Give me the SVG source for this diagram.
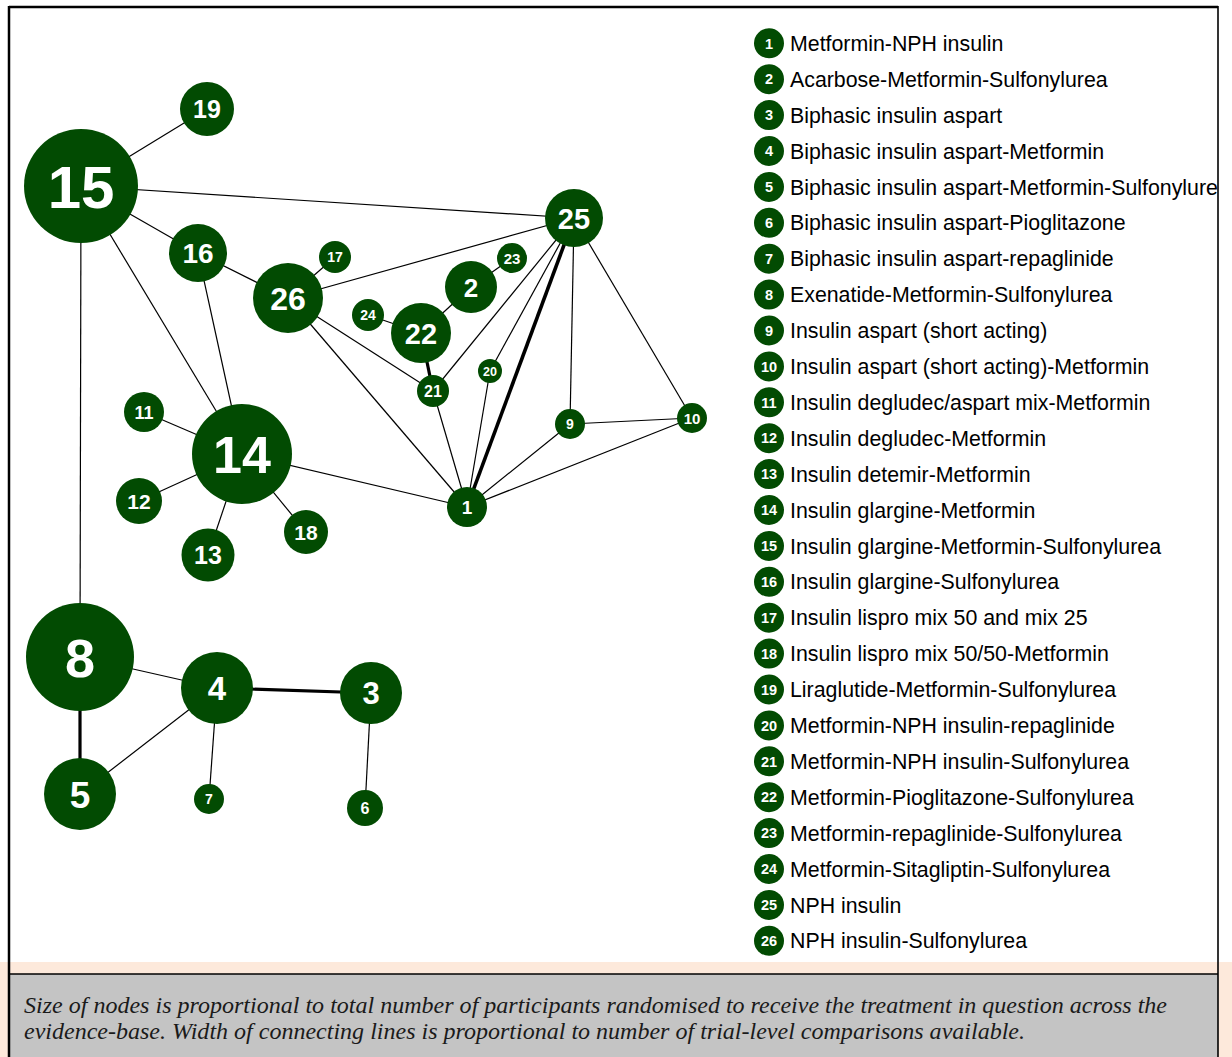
<svg xmlns="http://www.w3.org/2000/svg" width="1232" height="1057" viewBox="0 0 1232 1057">
<style>
.n{fill:#024b02}
.t{fill:#fff;font-family:"Liberation Sans",Arial,sans-serif;font-weight:bold;text-anchor:middle}
.e{stroke:#000;stroke-width:1.2;fill:none}
.k{stroke:#000;stroke-width:3.2;fill:none}
.lt{font-family:"Liberation Sans",Arial,sans-serif;font-size:21.33px;fill:#000}
.ln{fill:#fff;font-family:"Liberation Sans",Arial,sans-serif;font-weight:bold;font-size:14.5px;text-anchor:middle}
.cap{font-family:"Liberation Serif","Times New Roman",serif;font-style:italic;font-size:24px;fill:#1a1a1a}
</style>
<defs>
<clipPath id="frame"><rect x="9" y="7" width="1209" height="955"/></clipPath>
</defs>
<rect x="0" y="0" width="1232" height="1057" fill="#fff"/>
<rect x="0" y="962" width="1232" height="95" fill="#fde9db"/>
<rect x="9" y="974" width="1209" height="83" fill="#c4c4c4"/>
<g id="frame-lines" stroke="#000" fill="none">
<line x1="9" y1="7" x2="1218" y2="7" stroke-width="2.5"/>
<line x1="9" y1="6" x2="9" y2="1057" stroke-width="2.5"/>
<line x1="1218" y1="6" x2="1218" y2="1057" stroke-width="1.6"/>
<line x1="9" y1="974" x2="1218" y2="974" stroke-width="1.5"/>
</g>
<g id="connectors">
<line class="e" x1="81" y1="186" x2="207" y2="109"/>
<line class="e" x1="81" y1="186" x2="574" y2="218"/>
<line class="e" x1="81" y1="186" x2="198" y2="253"/>
<line class="e" x1="81" y1="186" x2="242" y2="454"/>
<line class="e" x1="81" y1="186" x2="80" y2="657"/>
<line class="e" x1="198" y1="253" x2="288" y2="298"/>
<line class="e" x1="198" y1="253" x2="242" y2="454"/>
<line class="e" x1="288" y1="298" x2="335" y2="257"/>
<line class="e" x1="288" y1="298" x2="574" y2="218"/>
<line class="e" x1="288" y1="298" x2="433" y2="391"/>
<line class="e" x1="288" y1="298" x2="467" y2="507"/>
<line class="e" x1="368" y1="315" x2="421" y2="333"/>
<line class="e" x1="421" y1="333" x2="471" y2="287"/>
<line class="e" x1="471" y1="287" x2="512" y2="258"/>
<line class="k" x1="421" y1="333" x2="433" y2="391"/>
<line class="e" x1="433" y1="391" x2="574" y2="218"/>
<line class="e" x1="433" y1="391" x2="467" y2="507"/>
<line class="e" x1="490" y1="371" x2="574" y2="218"/>
<line class="e" x1="490" y1="371" x2="467" y2="507"/>
<line class="k" x1="467" y1="507" x2="574" y2="218" style="stroke-width:3.6"/>
<line class="e" x1="574" y1="218" x2="570" y2="424"/>
<line class="e" x1="574" y1="218" x2="692" y2="418"/>
<line class="e" x1="570" y1="424" x2="692" y2="418"/>
<line class="e" x1="570" y1="424" x2="467" y2="507"/>
<line class="e" x1="692" y1="418" x2="467" y2="507"/>
<line class="e" x1="242" y1="454" x2="467" y2="507"/>
<line class="e" x1="242" y1="454" x2="144" y2="412"/>
<line class="e" x1="242" y1="454" x2="139" y2="501"/>
<line class="e" x1="242" y1="454" x2="208" y2="555"/>
<line class="e" x1="242" y1="454" x2="306" y2="532"/>
<line class="e" x1="80" y1="657" x2="217" y2="688"/>
<line class="k" x1="80" y1="657" x2="80" y2="794"/>
<line class="e" x1="217" y1="688" x2="80" y2="794"/>
<line class="k" x1="217" y1="688" x2="371" y2="693"/>
<line class="e" x1="217" y1="688" x2="209" y2="799"/>
<line class="e" x1="371" y1="693" x2="365" y2="808"/>
</g>
<g id="node-1"><circle class="n" cx="467" cy="507" r="20"/><text class="t" x="467" y="514" font-size="19">1</text></g>
<g id="node-2"><circle class="n" cx="471" cy="287" r="26"/><text class="t" x="471" y="296.5" font-size="26">2</text></g>
<g id="node-3"><circle class="n" cx="371" cy="693" r="31"/><text class="t" x="371" y="704" font-size="31">3</text></g>
<g id="node-4"><circle class="n" cx="217" cy="688" r="36"/><text class="t" x="217" y="700" font-size="33">4</text></g>
<g id="node-5"><circle class="n" cx="80" cy="794" r="36"/><text class="t" x="80" y="807.5" font-size="37">5</text></g>
<g id="node-6"><circle class="n" cx="365" cy="808" r="18"/><text class="t" x="365" y="814" font-size="16">6</text></g>
<g id="node-7"><circle class="n" cx="209" cy="799" r="15"/><text class="t" x="209" y="804" font-size="14">7</text></g>
<g id="node-8"><circle class="n" cx="80" cy="657" r="54"/><text class="t" x="80" y="676.5" font-size="54">8</text></g>
<g id="node-9"><circle class="n" cx="570" cy="424" r="15"/><text class="t" x="570" y="429" font-size="14">9</text></g>
<g id="node-10"><circle class="n" cx="692" cy="418" r="15"/><text class="t" x="692" y="423.5" font-size="15">10</text></g>
<g id="node-11"><circle class="n" cx="144" cy="412" r="20"/><text class="t" x="144" y="418.5" font-size="18">11</text></g>
<g id="node-12"><circle class="n" cx="139" cy="501" r="23"/><text class="t" x="139" y="508.5" font-size="21">12</text></g>
<g id="node-13"><circle class="n" cx="208" cy="555" r="26.5"/><text class="t" x="208" y="564" font-size="25">13</text></g>
<g id="node-14"><circle class="n" cx="242" cy="454" r="50"/><text class="t" x="242" y="472.5" font-size="52">14</text></g>
<g id="node-15"><circle class="n" cx="81" cy="186" r="57"/><text class="t" x="81" y="207.5" font-size="60">15</text></g>
<g id="node-16"><circle class="n" cx="198" cy="253" r="29"/><text class="t" x="198" y="263" font-size="28">16</text></g>
<g id="node-17"><circle class="n" cx="335" cy="257" r="16"/><text class="t" x="335" y="262" font-size="14">17</text></g>
<g id="node-18"><circle class="n" cx="306" cy="532" r="22"/><text class="t" x="306" y="539.5" font-size="21">18</text></g>
<g id="node-19"><circle class="n" cx="207" cy="109" r="27"/><text class="t" x="207" y="118" font-size="25">19</text></g>
<g id="node-20"><circle class="n" cx="490" cy="371" r="12"/><text class="t" x="490" y="375.5" font-size="12.5">20</text></g>
<g id="node-21"><circle class="n" cx="433" cy="391" r="16"/><text class="t" x="433" y="397" font-size="16">21</text></g>
<g id="node-22"><circle class="n" cx="421" cy="333" r="30"/><text class="t" x="421" y="343.5" font-size="29">22</text></g>
<g id="node-23"><circle class="n" cx="512" cy="258" r="15"/><text class="t" x="512" y="263.5" font-size="15">23</text></g>
<g id="node-24"><circle class="n" cx="368" cy="315" r="16"/><text class="t" x="368" y="320" font-size="14">24</text></g>
<g id="node-25"><circle class="n" cx="574" cy="218" r="29"/><text class="t" x="574" y="228.5" font-size="29">25</text></g>
<g id="node-26"><circle class="n" cx="288" cy="298" r="35"/><text class="t" x="288" y="309.5" font-size="32">26</text></g>
<g id="legend" clip-path="url(#frame)">
<g id="legend-1"><circle class="n" cx="769" cy="43.3" r="15"/><text class="ln" x="769" y="48.5">1</text><text class="lt" x="790" y="50.9">Metformin-NPH insulin</text></g>
<g id="legend-2"><circle class="n" cx="769" cy="79.2" r="15"/><text class="ln" x="769" y="84.4">2</text><text class="lt" x="790" y="86.8">Acarbose-Metformin-Sulfonylurea</text></g>
<g id="legend-3"><circle class="n" cx="769" cy="115.1" r="15"/><text class="ln" x="769" y="120.3">3</text><text class="lt" x="790" y="122.7">Biphasic insulin aspart</text></g>
<g id="legend-4"><circle class="n" cx="769" cy="151" r="15"/><text class="ln" x="769" y="156.2">4</text><text class="lt" x="790" y="158.6">Biphasic insulin aspart-Metformin</text></g>
<g id="legend-5"><circle class="n" cx="769" cy="186.9" r="15"/><text class="ln" x="769" y="192.1">5</text><text class="lt" x="790" y="194.5">Biphasic insulin aspart-Metformin-Sulfonylurea</text></g>
<g id="legend-6"><circle class="n" cx="769" cy="222.8" r="15"/><text class="ln" x="769" y="228">6</text><text class="lt" x="790" y="230.4">Biphasic insulin aspart-Pioglitazone</text></g>
<g id="legend-7"><circle class="n" cx="769" cy="258.7" r="15"/><text class="ln" x="769" y="263.9">7</text><text class="lt" x="790" y="266.3">Biphasic insulin aspart-repaglinide</text></g>
<g id="legend-8"><circle class="n" cx="769" cy="294.6" r="15"/><text class="ln" x="769" y="299.8">8</text><text class="lt" x="790" y="302.2">Exenatide-Metformin-Sulfonylurea</text></g>
<g id="legend-9"><circle class="n" cx="769" cy="330.5" r="15"/><text class="ln" x="769" y="335.7">9</text><text class="lt" x="790" y="338.1">Insulin aspart (short acting)</text></g>
<g id="legend-10"><circle class="n" cx="769" cy="366.4" r="15"/><text class="ln" x="769" y="371.6">10</text><text class="lt" x="790" y="374">Insulin aspart (short acting)-Metformin</text></g>
<g id="legend-11"><circle class="n" cx="769" cy="402.3" r="15"/><text class="ln" x="769" y="407.5">11</text><text class="lt" x="790" y="409.9">Insulin degludec/aspart mix-Metformin</text></g>
<g id="legend-12"><circle class="n" cx="769" cy="438.2" r="15"/><text class="ln" x="769" y="443.4">12</text><text class="lt" x="790" y="445.8">Insulin degludec-Metformin</text></g>
<g id="legend-13"><circle class="n" cx="769" cy="474.1" r="15"/><text class="ln" x="769" y="479.3">13</text><text class="lt" x="790" y="481.7">Insulin detemir-Metformin</text></g>
<g id="legend-14"><circle class="n" cx="769" cy="510" r="15"/><text class="ln" x="769" y="515.2">14</text><text class="lt" x="790" y="517.6">Insulin glargine-Metformin</text></g>
<g id="legend-15"><circle class="n" cx="769" cy="545.9" r="15"/><text class="ln" x="769" y="551.1">15</text><text class="lt" x="790" y="553.5">Insulin glargine-Metformin-Sulfonylurea</text></g>
<g id="legend-16"><circle class="n" cx="769" cy="581.8" r="15"/><text class="ln" x="769" y="587">16</text><text class="lt" x="790" y="589.4">Insulin glargine-Sulfonylurea</text></g>
<g id="legend-17"><circle class="n" cx="769" cy="617.7" r="15"/><text class="ln" x="769" y="622.9">17</text><text class="lt" x="790" y="625.3">Insulin lispro mix 50 and mix 25</text></g>
<g id="legend-18"><circle class="n" cx="769" cy="653.6" r="15"/><text class="ln" x="769" y="658.8">18</text><text class="lt" x="790" y="661.2">Insulin lispro mix 50/50-Metformin</text></g>
<g id="legend-19"><circle class="n" cx="769" cy="689.5" r="15"/><text class="ln" x="769" y="694.7">19</text><text class="lt" x="790" y="697.1">Liraglutide-Metformin-Sulfonylurea</text></g>
<g id="legend-20"><circle class="n" cx="769" cy="725.4" r="15"/><text class="ln" x="769" y="730.6">20</text><text class="lt" x="790" y="733">Metformin-NPH insulin-repaglinide</text></g>
<g id="legend-21"><circle class="n" cx="769" cy="761.3" r="15"/><text class="ln" x="769" y="766.5">21</text><text class="lt" x="790" y="768.9">Metformin-NPH insulin-Sulfonylurea</text></g>
<g id="legend-22"><circle class="n" cx="769" cy="797.2" r="15"/><text class="ln" x="769" y="802.4">22</text><text class="lt" x="790" y="804.8">Metformin-Pioglitazone-Sulfonylurea</text></g>
<g id="legend-23"><circle class="n" cx="769" cy="833.1" r="15"/><text class="ln" x="769" y="838.3">23</text><text class="lt" x="790" y="840.7">Metformin-repaglinide-Sulfonylurea</text></g>
<g id="legend-24"><circle class="n" cx="769" cy="869" r="15"/><text class="ln" x="769" y="874.2">24</text><text class="lt" x="790" y="876.6">Metformin-Sitagliptin-Sulfonylurea</text></g>
<g id="legend-25"><circle class="n" cx="769" cy="904.9" r="15"/><text class="ln" x="769" y="910.1">25</text><text class="lt" x="790" y="912.5">NPH insulin</text></g>
<g id="legend-26"><circle class="n" cx="769" cy="940.8" r="15"/><text class="ln" x="769" y="946">26</text><text class="lt" x="790" y="948.4">NPH insulin-Sulfonylurea</text></g>
</g>
<g id="caption">
<text class="cap" x="24" y="1013" textLength="1143" lengthAdjust="spacingAndGlyphs">Size of nodes is proportional to total number of participants randomised to receive the treatment in question across the</text>
<text class="cap" x="24" y="1039" textLength="1001" lengthAdjust="spacingAndGlyphs">evidence-base. Width of connecting lines is proportional to number of trial-level comparisons available.</text>
</g>
</svg>
